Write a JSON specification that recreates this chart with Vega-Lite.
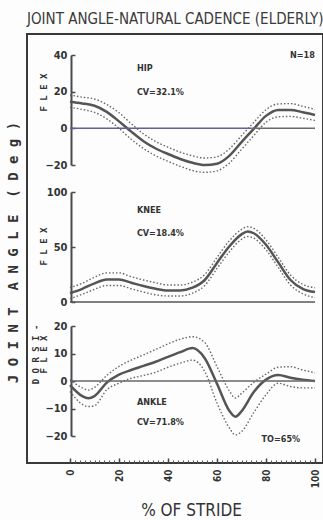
{
  "$schema": "https://vega.github.io/schema/vega-lite/v6.json",
  "width": 296,
  "height": 429,
  "autosize": {"type": "none"},
  "padding": {"left": 27, "top": 34, "right": 0, "bottom": 57},
  "background": "#fdfdfd",
  "title": {
    "text": "JOINT ANGLE-NATURAL CADENCE (ELDERLY)",
    "anchor": "start",
    "frame": "group",
    "offset": 7,
    "font": "DejaVu Sans Condensed",
    "fontSize": 15,
    "fontWeight": "normal",
    "color": "#3a3a3a"
  },
  "config": {
    "view": {"stroke": "#3a3a3a", "strokeWidth": 2},
    "axis": {"grid": false}
  },
  "datasets": {
    "curves": [
      {"j": "hip", "p": 0, "mean": 14.5, "hi": 18.2, "lo": 11.5},
      {"j": "hip", "p": 5, "mean": 13.6, "hi": 17, "lo": 10.3},
      {"j": "hip", "p": 10, "mean": 12.3, "hi": 16, "lo": 8.7},
      {"j": "hip", "p": 15, "mean": 9, "hi": 13, "lo": 5.2},
      {"j": "hip", "p": 20, "mean": 3.8, "hi": 8.5, "lo": 0},
      {"j": "hip", "p": 25, "mean": -1.8, "hi": 2.5, "lo": -6},
      {"j": "hip", "p": 30, "mean": -7, "hi": -3, "lo": -11},
      {"j": "hip", "p": 35, "mean": -11, "hi": -7.2, "lo": -15},
      {"j": "hip", "p": 40, "mean": -14, "hi": -10.3, "lo": -18},
      {"j": "hip", "p": 45, "mean": -16.7, "hi": -13, "lo": -20.7},
      {"j": "hip", "p": 50, "mean": -18.8, "hi": -15, "lo": -23},
      {"j": "hip", "p": 55, "mean": -20, "hi": -16.2, "lo": -24},
      {"j": "hip", "p": 60, "mean": -19.3, "hi": -15.5, "lo": -23.2},
      {"j": "hip", "p": 65, "mean": -15, "hi": -11.3, "lo": -19},
      {"j": "hip", "p": 70, "mean": -7.5, "hi": -4, "lo": -11.5},
      {"j": "hip", "p": 75, "mean": -0.3, "hi": 3.2, "lo": -4},
      {"j": "hip", "p": 80, "mean": 6.8, "hi": 10.2, "lo": 3.3},
      {"j": "hip", "p": 85, "mean": 10, "hi": 13.3, "lo": 6.3},
      {"j": "hip", "p": 90, "mean": 10, "hi": 13.5, "lo": 6.5},
      {"j": "hip", "p": 95, "mean": 8.8, "hi": 12, "lo": 5.5},
      {"j": "hip", "p": 100, "mean": 7.3, "hi": 10.3, "lo": 4.3},
      {"j": "knee", "p": 0, "mean": 8, "hi": 13, "lo": 3},
      {"j": "knee", "p": 5, "mean": 12, "hi": 17, "lo": 7},
      {"j": "knee", "p": 10, "mean": 17, "hi": 22.5, "lo": 11.5},
      {"j": "knee", "p": 15, "mean": 20.5, "hi": 26.5, "lo": 15},
      {"j": "knee", "p": 20, "mean": 20.5, "hi": 26.5, "lo": 15},
      {"j": "knee", "p": 25, "mean": 17.5, "hi": 23, "lo": 12},
      {"j": "knee", "p": 30, "mean": 14.5, "hi": 20, "lo": 9},
      {"j": "knee", "p": 35, "mean": 12, "hi": 17.5, "lo": 6.5},
      {"j": "knee", "p": 40, "mean": 10.5, "hi": 15.5, "lo": 5.5},
      {"j": "knee", "p": 45, "mean": 10.5, "hi": 15.5, "lo": 5.5},
      {"j": "knee", "p": 50, "mean": 13, "hi": 18, "lo": 8},
      {"j": "knee", "p": 55, "mean": 20, "hi": 25, "lo": 15},
      {"j": "knee", "p": 60, "mean": 35.5, "hi": 40.5, "lo": 30.5},
      {"j": "knee", "p": 65, "mean": 50.5, "hi": 55.5, "lo": 45.5},
      {"j": "knee", "p": 70, "mean": 61.5, "hi": 66, "lo": 57},
      {"j": "knee", "p": 72.5, "mean": 64, "hi": 68.5, "lo": 59.5},
      {"j": "knee", "p": 75, "mean": 62.5, "hi": 67, "lo": 58},
      {"j": "knee", "p": 80, "mean": 52, "hi": 56.5, "lo": 47.5},
      {"j": "knee", "p": 85, "mean": 36, "hi": 40.5, "lo": 31.5},
      {"j": "knee", "p": 90, "mean": 20, "hi": 24.5, "lo": 15.5},
      {"j": "knee", "p": 95, "mean": 12, "hi": 16, "lo": 7.5},
      {"j": "knee", "p": 100, "mean": 9, "hi": 13, "lo": 4},
      {"j": "ankle", "p": 0, "mean": -1.5, "hi": 0.5, "lo": -3.8},
      {"j": "ankle", "p": 5, "mean": -5.5, "hi": -2.5, "lo": -8.5},
      {"j": "ankle", "p": 7.5, "mean": -6.3, "hi": -3.3, "lo": -9.3},
      {"j": "ankle", "p": 10, "mean": -5.5, "hi": -2.3, "lo": -9},
      {"j": "ankle", "p": 15, "mean": -0.6, "hi": 2, "lo": -3.2},
      {"j": "ankle", "p": 20, "mean": 2.3, "hi": 5.3, "lo": -0.8},
      {"j": "ankle", "p": 25, "mean": 4, "hi": 7.6, "lo": 1},
      {"j": "ankle", "p": 30, "mean": 5.5, "hi": 9.5, "lo": 2},
      {"j": "ankle", "p": 35, "mean": 7, "hi": 11.5, "lo": 3.2},
      {"j": "ankle", "p": 40, "mean": 8.8, "hi": 13.5, "lo": 5},
      {"j": "ankle", "p": 45, "mean": 10.5, "hi": 15.2, "lo": 6.5},
      {"j": "ankle", "p": 50, "mean": 12, "hi": 16.1, "lo": 7.6},
      {"j": "ankle", "p": 55, "mean": 8.3, "hi": 14, "lo": 3.5},
      {"j": "ankle", "p": 60, "mean": -1, "hi": 5.2, "lo": -8},
      {"j": "ankle", "p": 65, "mean": -10.8, "hi": -3.5, "lo": -17},
      {"j": "ankle", "p": 67.5, "mean": -13, "hi": -6.2, "lo": -19.6},
      {"j": "ankle", "p": 70, "mean": -11, "hi": -4.5, "lo": -18.4},
      {"j": "ankle", "p": 75, "mean": -4, "hi": -0.5, "lo": -11.5},
      {"j": "ankle", "p": 80, "mean": 0.5, "hi": 2.5, "lo": -5},
      {"j": "ankle", "p": 85, "mean": 2.2, "hi": 5, "lo": -0.8},
      {"j": "ankle", "p": 90, "mean": 1.2, "hi": 5.2, "lo": -2},
      {"j": "ankle", "p": 95, "mean": 0.5, "hi": 4, "lo": -2.5},
      {"j": "ankle", "p": 100, "mean": 0, "hi": 3, "lo": -2.5}
    ],
    "notes": [
      {"j": "hip", "p": 27.3, "v": 33, "label": "HIP"},
      {"j": "hip", "p": 27.3, "v": 20, "label": "CV=32.1%"},
      {"j": "hip", "p": 89.8, "v": 40, "label": "N=18"},
      {"j": "knee", "p": 27.3, "v": 83.6, "label": "KNEE"},
      {"j": "knee", "p": 27.3, "v": 62.4, "label": "CV=18.4%"},
      {"j": "ankle", "p": 27.3, "v": -7.5, "label": "ANKLE"},
      {"j": "ankle", "p": 27.3, "v": -14.8, "label": "CV=71.8%"},
      {"j": "ankle", "p": 78.2, "v": -21.1, "label": "TO=65%"}
    ],
    "zeros": [
      {"j": "hip", "a": 0, "b": 74, "z": 0, "part": "left"},
      {"j": "hip", "a": 74, "b": 100, "z": 0, "part": "right"},
      {"j": "knee", "a": 0, "b": 100, "z": 0, "part": "all"},
      {"j": "ankle", "a": 0, "b": 100, "z": 0, "part": "all"}
    ],
    "ylabel": [
      {"p": -22.9, "v": 45, "label": "J O I N T\u00a0\u00a0A N G L E\u00a0\u00a0( D e g )"}
    ]
  },
  "layer": [
    {
      "data": {"name": "curves"},
      "transform": [{"filter": "datum.j === 'hip'"}],
      "mark": {"type": "line", "interpolate": "monotone", "strokeDash": [1.5, 2], "strokeWidth": 1.4, "color": "#666"},
      "encoding": {
        "x": {
          "field": "p", "type": "quantitative",
          "scale": {"domain": [0, 100], "range": [43, 288]},
          "axis": {
            "orient": "bottom", "domain": false, "labels": false, "title": null,
            "values": [0,2,4,6,8,10,12,14,16,18,20,22,24,26,28,30,32,34,36,38,40,42,44,46,48,50,52,54,56,58,60,62,64,66,68,70,72,74,76,78,80,82,84,86,88,90,92,94,96,98,100],
            "tickSize": -3, "tickColor": "#555", "tickWidth": 1
          }
        },
        "y": {
          "field": "hi", "type": "quantitative",
          "scale": {"domain": [-20, 40], "range": [131, 21]},
          "axis": {
            "orient": "left", "offset": -44, "values": [-20, 0, 20, 40],
            "domainColor": "#4a4a4a", "domainWidth": 2,
            "tickColor": "#4a4a4a", "tickSize": -4, "tickWidth": 1.5,
            "labelPadding": 8, "labelFont": "DejaVu Sans Condensed", "labelFontWeight": "bold", "labelFontSize": 11, "labelColor": "#333",
            "title": "F L E X", "titleFont": "DejaVu Sans Mono", "titleFontSize": 9, "titleFontWeight": "bold", "titleColor": "#333",
            "titleX": -28, "titleY": 58, "titleAlign": "center", "titleBaseline": "middle", "titleAngle": 270
          }
        }
      }
    },
    {
      "data": {"name": "curves"},
      "transform": [{"filter": "datum.j === 'hip'"}],
      "mark": {"type": "line", "interpolate": "monotone", "strokeDash": [1.5, 2], "strokeWidth": 1.4, "color": "#666"},
      "encoding": {
        "x": {"field": "p", "type": "quantitative", "scale": {"domain": [0, 100], "range": [43, 288]}, "axis": null},
        "y": {"field": "lo", "type": "quantitative", "scale": {"domain": [-20, 40], "range": [131, 21]}, "axis": null}
      }
    },
    {
      "data": {"name": "curves"},
      "transform": [{"filter": "datum.j === 'hip'"}],
      "mark": {"type": "line", "interpolate": "monotone", "strokeWidth": 2.5, "color": "#555"},
      "encoding": {
        "x": {"field": "p", "type": "quantitative", "scale": {"domain": [0, 100], "range": [43, 288]}, "axis": null},
        "y": {"field": "mean", "type": "quantitative", "scale": {"domain": [-20, 40], "range": [131, 21]}, "axis": null}
      }
    },
    {
      "data": {"name": "zeros"},
      "transform": [{"filter": "datum.j === 'hip'"}],
      "mark": {"type": "rule", "strokeWidth": 1.5},
      "encoding": {
        "x": {"field": "a", "type": "quantitative", "scale": {"domain": [0, 100], "range": [43, 288]}, "axis": null},
        "x2": {"field": "b"},
        "y": {"field": "z", "type": "quantitative", "scale": {"domain": [-20, 40], "range": [131, 21]}, "axis": null},
        "color": {"field": "part", "type": "nominal", "scale": {"domain": ["left", "right"], "range": ["#6b5b9a", "#6a6a6a"]}, "legend": null}
      }
    },
    {
      "data": {"name": "notes"},
      "transform": [{"filter": "datum.j === 'hip'"}],
      "mark": {"type": "text", "align": "left", "baseline": "middle", "font": "DejaVu Sans Condensed", "fontWeight": "bold", "fontSize": 9, "color": "#333"},
      "encoding": {
        "x": {"field": "p", "type": "quantitative", "scale": {"domain": [0, 100], "range": [43, 288]}, "axis": null},
        "y": {"field": "v", "type": "quantitative", "scale": {"domain": [-20, 40], "range": [131, 21]}, "axis": null},
        "text": {"field": "label"}
      }
    },
    {
      "data": {"name": "curves"},
      "transform": [{"filter": "datum.j === 'knee'"}],
      "mark": {"type": "line", "interpolate": "monotone", "strokeDash": [1.5, 2], "strokeWidth": 1.4, "color": "#666"},
      "encoding": {
        "x": {"field": "p", "type": "quantitative", "scale": {"domain": [0, 100], "range": [43, 288]}, "axis": null},
        "y": {
          "field": "hi", "type": "quantitative",
          "scale": {"domain": [0, 100], "range": [268, 158]},
          "axis": {
            "orient": "left", "offset": -44, "values": [0, 50, 100],
            "domainColor": "#4a4a4a", "domainWidth": 2,
            "tickColor": "#4a4a4a", "tickSize": -4, "tickWidth": 1.5,
            "labelPadding": 8, "labelFont": "DejaVu Sans Condensed", "labelFontWeight": "bold", "labelFontSize": 11, "labelColor": "#333",
            "title": "F L E X", "titleFont": "DejaVu Sans Mono", "titleFontSize": 9, "titleFontWeight": "bold", "titleColor": "#333",
            "titleX": -28, "titleY": 212, "titleAlign": "center", "titleBaseline": "middle", "titleAngle": 270
          }
        }
      }
    },
    {
      "data": {"name": "curves"},
      "transform": [{"filter": "datum.j === 'knee'"}],
      "mark": {"type": "line", "interpolate": "monotone", "strokeDash": [1.5, 2], "strokeWidth": 1.4, "color": "#666"},
      "encoding": {
        "x": {"field": "p", "type": "quantitative", "scale": {"domain": [0, 100], "range": [43, 288]}, "axis": null},
        "y": {"field": "lo", "type": "quantitative", "scale": {"domain": [0, 100], "range": [268, 158]}, "axis": null}
      }
    },
    {
      "data": {"name": "curves"},
      "transform": [{"filter": "datum.j === 'knee'"}],
      "mark": {"type": "line", "interpolate": "monotone", "strokeWidth": 2.5, "color": "#555"},
      "encoding": {
        "x": {"field": "p", "type": "quantitative", "scale": {"domain": [0, 100], "range": [43, 288]}, "axis": null},
        "y": {"field": "mean", "type": "quantitative", "scale": {"domain": [0, 100], "range": [268, 158]}, "axis": null}
      }
    },
    {
      "data": {"name": "zeros"},
      "transform": [{"filter": "datum.j === 'knee'"}],
      "mark": {"type": "rule", "strokeWidth": 1.5, "color": "#555"},
      "encoding": {
        "x": {"field": "a", "type": "quantitative", "scale": {"domain": [0, 100], "range": [43, 288]}, "axis": null},
        "x2": {"field": "b"},
        "y": {"field": "z", "type": "quantitative", "scale": {"domain": [0, 100], "range": [268, 158]}, "axis": null}
      }
    },
    {
      "data": {"name": "notes"},
      "transform": [{"filter": "datum.j === 'knee'"}],
      "mark": {"type": "text", "align": "left", "baseline": "middle", "font": "DejaVu Sans Condensed", "fontWeight": "bold", "fontSize": 9, "color": "#333"},
      "encoding": {
        "x": {"field": "p", "type": "quantitative", "scale": {"domain": [0, 100], "range": [43, 288]}, "axis": null},
        "y": {"field": "v", "type": "quantitative", "scale": {"domain": [0, 100], "range": [268, 158]}, "axis": null},
        "text": {"field": "label"}
      }
    },
    {
      "data": {"name": "ylabel"},
      "mark": {"type": "text", "angle": 270, "align": "center", "baseline": "middle", "font": "DejaVu Sans Mono", "fontWeight": "bold", "fontSize": 14, "color": "#333"},
      "encoding": {
        "x": {"field": "p", "type": "quantitative", "scale": {"domain": [0, 100], "range": [43, 288]}, "axis": null},
        "y": {"field": "v", "type": "quantitative", "scale": {"domain": [0, 100], "range": [268, 158]}, "axis": null},
        "text": {"field": "label"}
      }
    },
    {
      "data": {"name": "curves"},
      "transform": [{"filter": "datum.j === 'ankle'"}],
      "mark": {"type": "line", "interpolate": "monotone", "strokeDash": [1.5, 2], "strokeWidth": 1.4, "color": "#666"},
      "encoding": {
        "x": {
          "field": "p", "type": "quantitative",
          "scale": {"domain": [0, 100], "range": [43, 288]},
          "axis": {
            "orient": "bottom", "domain": false, "values": [0, 20, 40, 60, 80, 100],
            "tickSize": -5, "tickColor": "#444", "tickWidth": 1.5,
            "labelAngle": 270, "labelAlign": "right", "labelBaseline": "middle", "labelPadding": 11, "labelFlush": false,
            "labelFont": "DejaVu Sans Condensed", "labelFontWeight": "bold", "labelFontSize": 10, "labelColor": "#333",
            "title": "% OF STRIDE", "titleFont": "DejaVu Sans Condensed", "titleFontSize": 17, "titleFontWeight": "normal", "titleColor": "#333",
            "titleX": 164, "titleY": 47, "titleAlign": "center", "titleBaseline": "middle"
          }
        },
        "y": {
          "field": "hi", "type": "quantitative",
          "scale": {"domain": [-20, 20], "range": [402, 292]},
          "axis": {
            "orient": "left", "offset": -44, "values": [-20, -10, 0, 10, 20],
            "domainColor": "#4a4a4a", "domainWidth": 2,
            "tickColor": "#4a4a4a", "tickSize": -4, "tickWidth": 1.5,
            "labelPadding": 8, "labelFont": "DejaVu Sans Condensed", "labelFontWeight": "bold", "labelFontSize": 11, "labelColor": "#333",
            "title": ["D O R S I -", "F L E X"], "titleFont": "DejaVu Sans Mono", "titleFontSize": 9, "titleFontWeight": "bold", "titleColor": "#333", "titleLineHeight": 8,
            "titleX": -36, "titleY": 320, "titleAlign": "center", "titleBaseline": "middle", "titleAngle": 270
          }
        }
      }
    },
    {
      "data": {"name": "curves"},
      "transform": [{"filter": "datum.j === 'ankle'"}],
      "mark": {"type": "line", "interpolate": "monotone", "strokeDash": [1.5, 2], "strokeWidth": 1.4, "color": "#666"},
      "encoding": {
        "x": {"field": "p", "type": "quantitative", "scale": {"domain": [0, 100], "range": [43, 288]}, "axis": null},
        "y": {"field": "lo", "type": "quantitative", "scale": {"domain": [-20, 20], "range": [402, 292]}, "axis": null}
      }
    },
    {
      "data": {"name": "curves"},
      "transform": [{"filter": "datum.j === 'ankle'"}],
      "mark": {"type": "line", "interpolate": "monotone", "strokeWidth": 2.5, "color": "#555"},
      "encoding": {
        "x": {"field": "p", "type": "quantitative", "scale": {"domain": [0, 100], "range": [43, 288]}, "axis": null},
        "y": {"field": "mean", "type": "quantitative", "scale": {"domain": [-20, 20], "range": [402, 292]}, "axis": null}
      }
    },
    {
      "data": {"name": "zeros"},
      "transform": [{"filter": "datum.j === 'ankle'"}],
      "mark": {"type": "rule", "strokeWidth": 1.5, "color": "#666"},
      "encoding": {
        "x": {"field": "a", "type": "quantitative", "scale": {"domain": [0, 100], "range": [43, 288]}, "axis": null},
        "x2": {"field": "b"},
        "y": {"field": "z", "type": "quantitative", "scale": {"domain": [-20, 20], "range": [402, 292]}, "axis": null}
      }
    },
    {
      "data": {"name": "notes"},
      "transform": [{"filter": "datum.j === 'ankle'"}],
      "mark": {"type": "text", "align": "left", "baseline": "middle", "font": "DejaVu Sans Condensed", "fontWeight": "bold", "fontSize": 9, "color": "#333"},
      "encoding": {
        "x": {"field": "p", "type": "quantitative", "scale": {"domain": [0, 100], "range": [43, 288]}, "axis": null},
        "y": {"field": "v", "type": "quantitative", "scale": {"domain": [-20, 20], "range": [402, 292]}, "axis": null},
        "text": {"field": "label"}
      }
    }
  ],
  "resolve": {
    "scale": {"x": "independent", "y": "independent"},
    "axis": {"x": "independent", "y": "independent"}
  }
}
